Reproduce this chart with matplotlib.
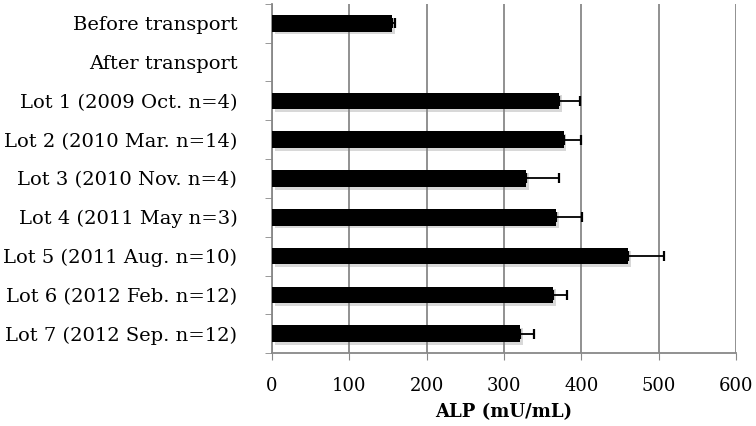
import matplotlib
matplotlib.use("Agg")
from matplotlib import pyplot as plt
import matplotlib.patheffects as pe
import numpy as np

labels = ['Before transport', 'After transport',
          'Lot 1 (2009 Oct. n=4)', 'Lot 2 (2010 Mar. n=14)',
          'Lot 3 (2010 Nov. n=4)', 'Lot 4 (2011 May n=3)',
          'Lot 5 (2011 Aug. n=10)', 'Lot 6 (2012 Feb. n=12)',
          'Lot 7 (2012 Sep. n=12)']
alp = [155, 0, 371, 377, 329, 367, 461, 364, 321]
sd = [4, 0, 27, 23, 42, 34, 46, 17, 18]

plt.rcParams['font.family'] = ['DejaVu Serif']

fig = plt.figure(figsize=(7.56, 4.26), dpi=100)
ax = fig.add_axes([0.3598, 0.171, 0.6137, 0.82])

y = np.arange(len(labels))
bars = ax.barh(y, alp, height=0.43, color='black', zorder=3)
for b in bars:
    b.set_path_effects([pe.SimplePatchShadow(offset=(2, -2), shadow_rgbFace='0.5', alpha=0.3), pe.Normal()])
neg = [0] * len(sd)
ax.errorbar([a if s > 0 else np.nan for a, s in zip(alp, sd)], y, xerr=[neg, sd],
            fmt='none', ecolor='black', elinewidth=1.3, capsize=3.5, capthick=1.6, zorder=4)

ax.set_xlim(0, 600)
ax.set_ylim(len(labels) - 0.5, -0.5)
ax.set_xticks(range(0, 601, 100))
ax.set_yticks(y)
ax.set_yticklabels(labels, fontsize=14)
ax.set_yticks(np.arange(-0.5, len(labels), 1), minor=True)
ax.tick_params(axis='y', which='major', length=0, pad=25)
ax.tick_params(axis='y', which='minor', length=5, color='#888888', direction='out')
ax.tick_params(axis='x', length=5, color='#888888', labelsize=13, pad=12)
ax.grid(axis='x', color='#888888', linewidth=1.3, zorder=0)
for s in ['top', 'right']:
    ax.spines[s].set_visible(False)
for s in ['left', 'bottom']:
    ax.spines[s].set_color('#888888')
    ax.spines[s].set_linewidth(1.3)
ax.set_xlabel('ALP (mU/mL)', fontsize=13, fontweight='bold', labelpad=6)

fig.savefig('out.png', dpi=100)
